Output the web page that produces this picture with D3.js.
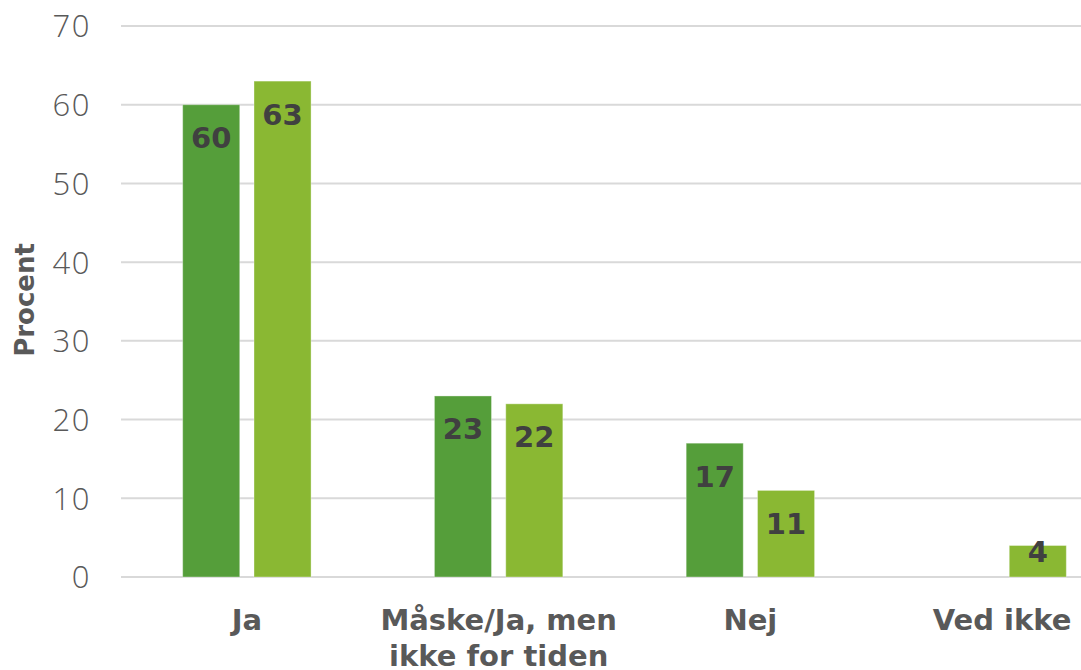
<!DOCTYPE html>
<html>
<head>
<meta charset="utf-8">
<script src="https://cdn.jsdelivr.net/npm/d3@7"></script>
<style>
  html, body { margin: 0; padding: 0; background: #fff; }
  svg { display: block; }
</style>
</head>
<body>
<svg id="chart" width="1081" height="670"></svg>
<script>
// Categories, series and axis ticks
const categories = ["Ja", "Måske/Ja, men ikke for tiden", "Nej", "Ved ikke"];
const categoryLines = [["Ja"], ["Måske/Ja, men", "ikke for tiden"], ["Nej"], ["Ved ikke"]];
const seriesNames = ["Serie 1", "Serie 2"];
const series1 = [60, 23, 17, null];
const series2 = [63, 22, 11, 4];
const yTicks = [0, 10, 20, 30, 40, 50, 60, 70];
const yTitle = "Procent";

const colors = ["#559e3a", "#8ab833"];
const boldFont = "'DejaVu Sans', sans-serif";
const lightFont = "'Open Sans', 'Lato', sans-serif";

const svg = d3.select("#chart");

const y = d3.scaleLinear().domain([0, 70]).range([577, 26]);
const x = d3.scaleBand().domain(categories).range([121, 1128])
  .paddingInner(0.49).paddingOuter(0.245);
const xs = d3.scaleBand().domain(seriesNames).range([0, x.bandwidth()])
  .paddingInner(0.2);

// Tick labels
const yAxis = d3.axisLeft(y).tickValues(yTicks).tickSize(0).tickPadding(0);
const gy = svg.append("g").attr("transform", "translate(91,0)").call(yAxis);
gy.select(".domain").remove();
gy.selectAll("text")
  .attr("font-family", lightFont)
  .attr("font-weight", 300)
  .attr("font-size", 31)
  .attr("letter-spacing", 1.5)
  .attr("fill", "#595959")
  .attr("dy", "0.35em");

// Gridlines
svg.append("g").selectAll("line").data(yTicks).join("line")
  .attr("x1", 121).attr("x2", 1081)
  .attr("y1", d => y(d)).attr("y2", d => y(d))
  .attr("stroke", "#d9d9d9").attr("stroke-width", 2);

// Bars
const rows = categories.map((c, i) => ({ cat: c, vals: [series1[i], series2[i]] }));
const groups = svg.append("g").selectAll("g").data(rows).join("g")
  .attr("transform", d => `translate(${x(d.cat)},0)`);

const cells = groups.selectAll("g")
  .data(d => d.vals.map((v, j) => ({ v, s: seriesNames[j], j })).filter(e => e.v != null))
  .join("g");

cells.append("rect")
  .attr("x", d => xs(d.s))
  .attr("width", xs.bandwidth())
  .attr("y", d => y(d.v))
  .attr("height", d => y(0) - y(d.v))
  .attr("fill", d => colors[d.j])
  .attr("stroke", "#ffffff")
  .attr("stroke-opacity", 0.35)
  .attr("stroke-width", 1);

// Value labels inside the bar tops
cells.append("text")
  .attr("x", d => xs(d.s) + xs.bandwidth() / 2)
  .attr("y", d => {
    const top = y(d.v), h = y(0) - top;
    return Math.min(top + 33, top + h / 2 - 10);
  })
  .attr("dy", "0.36em")
  .attr("text-anchor", "middle")
  .attr("font-family", boldFont)
  .attr("font-weight", 700)
  .attr("font-size", 29)
  .attr("fill", "#404040")
  .text(d => d.v);

// Category labels
const catLabels = svg.append("g").selectAll("text").data(categories).join("text")
  .attr("x", d => x(d) + x.bandwidth() / 2)
  .attr("y", 630)
  .attr("text-anchor", "middle")
  .attr("font-family", boldFont)
  .attr("font-weight", 700)
  .attr("font-size", 29)
  .attr("fill", "#595959");
catLabels.each(function(d, i) {
  d3.select(this).selectAll("tspan").data(categoryLines[i]).join("tspan")
    .attr("x", x(d) + x.bandwidth() / 2)
    .attr("dy", (t, k) => k === 0 ? 0 : 36)
    .text(t => t);
});

// Axis title
svg.append("text")
  .attr("transform", "translate(34,300) rotate(-90)")
  .attr("text-anchor", "middle")
  .attr("font-family", boldFont)
  .attr("font-weight", 700)
  .attr("font-size", 26)
  .attr("fill", "#595959")
  .text(yTitle);
</script>
</body>
</html>
